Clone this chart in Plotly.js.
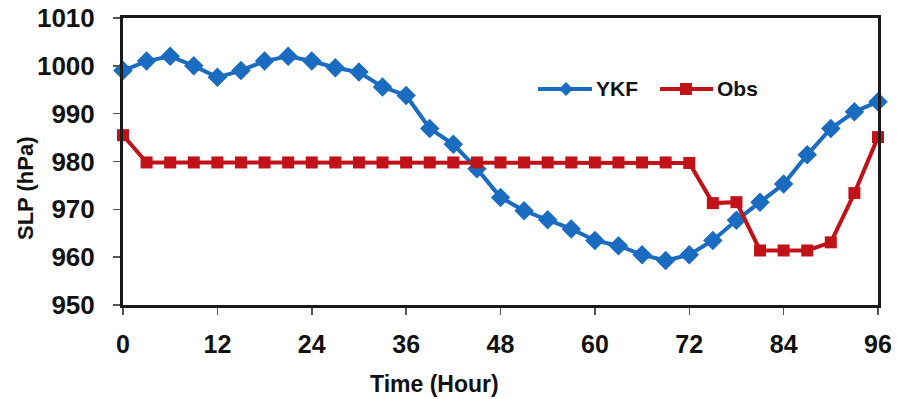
<!DOCTYPE html>
<html>
<head>
<meta charset="utf-8">
<script src="https://cdn.plot.ly/plotly-3.0.1.min.js"></script>
<style>html,body{margin:0;padding:0;background:#fff;}#chart{width:897px;height:399px;}</style>
</head>
<body>
<div id="chart"></div>
<script>
const hours = [0,3,6,9,12,15,18,21,24,27,30,33,36,39,42,45,48,51,54,57,60,63,66,69,72,75,78,81,84,87,90,93,96];
const ykf = [999,1001,1002,1000,997.6,999,1001,1002,1001,999.6,998.7,995.6,993.8,986.9,983.6,978.5,972.5,969.7,967.8,965.9,963.5,962.4,960.5,959.3,960.5,963.5,967.7,971.5,975.3,981.4,986.9,990.4,992.5];
const obs = [985.5,979.8,979.8,979.8,979.8,979.8,979.8,979.8,979.8,979.8,979.8,979.8,979.8,979.8,979.8,979.8,979.8,979.8,979.8,979.8,979.8,979.8,979.8,979.8,979.7,971.3,971.5,961.4,961.4,961.4,963.1,973.4,985.1];
const xTicks = [0,12,24,36,48,60,72,84,96];
const yTicks = [950,960,970,980,990,1000,1010];
const seriesNames = ['YKF', 'Obs'];
const seriesColors = ['#1a6cc0', '#c01218'];
const FONT = 'Liberation Sans, Arial, sans-serif';

const W = 897, H = 399, M = {l: 123, r: 19, t: 18, b: 94};
const pw = W - M.l - M.r, ph = H - M.t - M.b;
const px = v => (v - M.l) / pw;   // pixel -> paper x
const py = v => (H - M.b - v) / ph; // pixel -> paper y

const traces = [
  {x: hours, y: ykf, name: seriesNames[0], type: 'scatter', mode: 'lines+markers', cliponaxis: false,
   line: {color: seriesColors[0], width: 4}, marker: {symbol: 'diamond', size: 15, color: seriesColors[0]}},
  {x: hours, y: obs, name: seriesNames[1], type: 'scatter', mode: 'lines+markers', cliponaxis: false,
   line: {color: seriesColors[1], width: 4}, marker: {symbol: 'square', size: 12, color: seriesColors[1]}}
];

// hand-built legend (longer sample lines like the original)
const legY = 89;
function diamond(cx, cy, r) {
  return `M${px(cx)},${py(cy - r)} L${px(cx + r)},${py(cy)} L${px(cx)},${py(cy + r)} L${px(cx - r)},${py(cy)} Z`;
}
const shapes = [
  {type: 'line', xref: 'paper', yref: 'paper', x0: px(538), x1: px(592), y0: py(legY), y1: py(legY), line: {color: seriesColors[0], width: 4}},
  {type: 'path', xref: 'paper', yref: 'paper', path: diamond(566, legY, 7), fillcolor: seriesColors[0], line: {width: 0}},
  {type: 'line', xref: 'paper', yref: 'paper', x0: px(660), x1: px(713), y0: py(legY), y1: py(legY), line: {color: seriesColors[1], width: 4}},
  {type: 'rect', xref: 'paper', yref: 'paper', x0: px(680), x1: px(692), y0: py(legY - 6), y1: py(legY + 6), fillcolor: seriesColors[1], line: {width: 0}}
];

const layout = {
  width: W, height: H,
  margin: M,
  paper_bgcolor: '#fff', plot_bgcolor: '#fff',
  font: {family: FONT, color: '#111', size: 22},
  showlegend: false,
  xaxis: {range: [0, 96], tickvals: xTicks, ticktext: xTicks.map(String), showgrid: false, zeroline: false,
          showline: true, linecolor: '#1a1a1a', linewidth: 3, mirror: true,
          ticks: 'outside', ticklen: 7, tickwidth: 1.5, tickcolor: '#555', ticklabelstandoff: 8,
          tickfont: {family: FONT, size: 25, color: '#111', weight: 'bold'}},
  yaxis: {range: [950, 1010], tickvals: yTicks, ticktext: yTicks.map(String), showgrid: false, zeroline: false,
          showline: true, linecolor: '#1a1a1a', linewidth: 3, mirror: true,
          ticks: 'outside', ticklen: 7, tickwidth: 1.5, tickcolor: '#555', ticklabelstandoff: 13,
          tickfont: {family: FONT, size: 26, color: '#111', weight: 'bold'}},
  shapes: shapes,
  annotations: [
    {text: seriesNames[0], xref: 'paper', yref: 'paper', x: px(594), y: py(legY), xanchor: 'left', yanchor: 'middle',
     showarrow: false, font: {family: FONT, size: 21, color: '#111', weight: 'bold'}},
    {text: seriesNames[1], xref: 'paper', yref: 'paper', x: px(715), y: py(legY), xanchor: 'left', yanchor: 'middle',
     showarrow: false, font: {family: FONT, size: 21, color: '#111', weight: 'bold'}},
    {text: 'SLP (hPa)', xref: 'paper', yref: 'paper', x: px(25), y: py(188), xanchor: 'center', yanchor: 'middle',
     textangle: -90, showarrow: false, font: {family: FONT, size: 22, color: '#111', weight: 'bold'}},
    {text: 'Time (Hour)', xref: 'paper', yref: 'paper', x: px(434), y: py(384), xanchor: 'center', yanchor: 'middle',
     showarrow: false, font: {family: FONT, size: 23, color: '#111', weight: 'bold'}}
  ]
};

Plotly.newPlot('chart', traces, layout, {displayModeBar: false, staticPlot: true});
</script>
</body>
</html>
